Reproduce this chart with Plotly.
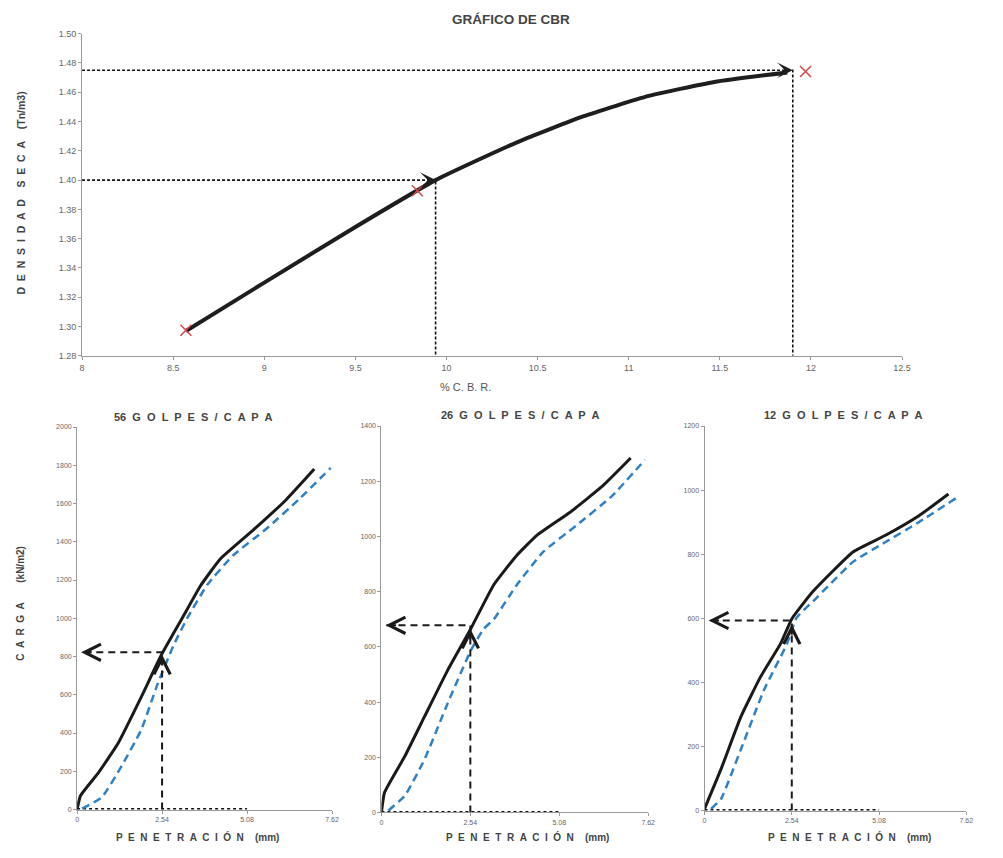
import plotly.graph_objects as go

W, H = 1003, 858

# ---------------- DATA ----------------
# Top chart: dry density vs CBR
cbr_points_x = [8.57, 9.84, 11.97]
cbr_points_y = [1.2975, 1.3927, 1.4742]
cbr_curve_x = [8.57, 9.0, 9.5, 9.94, 10.39, 10.75, 11.11, 11.47, 11.87]
cbr_curve_y = [1.297, 1.330, 1.368, 1.400, 1.426, 1.4435, 1.4575, 1.467, 1.4735]
cbr_read_x = [9.94, 11.9]
cbr_read_y = [1.400, 1.475]
top_yticks = [1.28, 1.30, 1.32, 1.34, 1.36, 1.38, 1.40, 1.42, 1.44, 1.46, 1.48, 1.50]
top_xticks = [8, 8.5, 9, 9.5, 10, 10.5, 11, 11.5, 12, 12.5]

# Bottom charts: load vs penetration
pen_ticks = [0, 2.54, 5.08, 7.62]
pen_ticklabels = ["0", "2.54", "5.08", "7.62"]

g56_black_x = [0, 0.10, 0.64, 1.23, 1.92, 2.51, 3.15, 3.69, 4.28, 5.27, 6.25, 7.09]
g56_black_y = [0, 72, 193, 348, 589, 805, 1003, 1170, 1310, 1462, 1620, 1780]
g56_blue_x = [0.15, 0.74, 1.33, 1.92, 2.41, 2.90, 3.30, 3.89, 4.67, 5.66, 6.64, 7.58]
g56_blue_y = [5, 64, 227, 418, 658, 865, 1003, 1175, 1330, 1468, 1623, 1786]
g56_read = 822

g26_black_x = [0, 0.09, 0.67, 1.23, 1.89, 2.55, 3.21, 3.87, 4.44, 5.38, 6.32, 7.12]
g26_black_y = [0, 73, 204, 347, 515, 665, 825, 932, 1004, 1087, 1183, 1284]
g26_blue_x = [0.20, 0.67, 1.23, 1.89, 2.55, 2.92, 3.21, 3.87, 4.62, 5.56, 6.59, 7.53]
g26_blue_y = [7, 61, 192, 395, 586, 665, 700, 825, 944, 1039, 1147, 1278]
g26_read = 678

g12_black_x = [0, 0.48, 1.06, 1.63, 2.21, 2.54, 3.16, 4.32, 5.27, 6.24, 7.10]
g12_black_y = [5, 129, 293, 417, 520, 598, 684, 807, 859, 920, 988]
g12_blue_x = [0.19, 0.48, 1.06, 1.73, 2.40, 2.68, 3.16, 4.32, 5.27, 6.24, 7.35]
g12_blue_y = [5, 36, 191, 376, 520, 602, 653, 776, 838, 900, 977]
g12_read = 593

# ---------------- FIGURE ----------------
fig = go.Figure()
FONT = "Liberation Sans, Arial, sans-serif"
TICKC = "#666666"
AXC = "#9a9a9a"
NB = "\u00a0"


def px_x(p):
    return p / W


def px_y(p):
    return 1 - p / H


def spaced(word, gap=2):
    sep = " " + NB * (gap - 1)
    return sep.join(list(word))


# Top chart
for xr, yr in zip(cbr_read_x, cbr_read_y):
    fig.add_trace(go.Scatter(x=[top_xticks[0], xr, xr],
                             y=[yr, yr, top_yticks[0]],
                             mode="lines", line=dict(color="#111", width=1.6, dash="3px,2px"),
                             xaxis="x", yaxis="y", showlegend=False))
fig.add_trace(go.Scatter(x=cbr_curve_x, y=cbr_curve_y, mode="lines",
                         line=dict(color="#1e1e1e", width=4, shape="spline", smoothing=0.5),
                         xaxis="x", yaxis="y", showlegend=False))
fig.add_trace(go.Scatter(x=cbr_points_x, y=cbr_points_y, mode="markers",
                         marker=dict(symbol="x-thin", size=11, color="#d04848",
                                     line=dict(color="#d04848", width=1.5)),
                         xaxis="x", yaxis="y", showlegend=False))

annotations = []
for xr, yr in zip(cbr_read_x, cbr_read_y):
    annotations.append(dict(x=xr, y=yr, ax=-10, ay=0, xref="x", yref="y",
                            axref="pixel", ayref="pixel", showarrow=True,
                            arrowhead=3, arrowsize=1.3, arrowwidth=2,
                            arrowcolor="#1e1e1e", text=""))

# Bottom charts
bottom = [
    ("x2", "y2", g56_black_x, g56_black_y, g56_blue_x, g56_blue_y, g56_read),
    ("x3", "y3", g26_black_x, g26_black_y, g26_blue_x, g26_blue_y, g26_read),
    ("x4", "y4", g12_black_x, g12_black_y, g12_blue_x, g12_blue_y, g12_read),
]
for xa, ya, bx, by, ux, uy, rd in bottom:
    fig.add_trace(go.Scatter(x=[pen_ticks[0], pen_ticks[2]], y=[0, 0], mode="lines",
                             line=dict(color="#111", width=3, dash="dot"),
                             xaxis=xa, yaxis=ya, showlegend=False))
    fig.add_trace(go.Scatter(x=ux, y=uy, mode="lines",
                             line=dict(color="#2f80c4", width=2.5, dash="8px,5px",
                                       shape="spline", smoothing=0.4),
                             xaxis=xa, yaxis=ya, showlegend=False))
    fig.add_trace(go.Scatter(x=bx, y=by, mode="lines",
                             line=dict(color="#1a1a1a", width=3, shape="spline", smoothing=0.4),
                             xaxis=xa, yaxis=ya, showlegend=False))
    fig.add_trace(go.Scatter(x=[pen_ticks[1], pen_ticks[1], 0.12], y=[0, rd, rd], mode="lines",
                             line=dict(color="#1a1a1a", width=2, dash="7px,5px"),
                             xaxis=xa, yaxis=ya, showlegend=False))
    annotations.append(dict(x=0.12, y=rd, ax=12, ay=0, xref=xa, yref=ya,
                            axref="pixel", ayref="pixel", showarrow=True,
                            arrowhead=5, arrowsize=1.6, arrowwidth=2,
                            arrowcolor="#1a1a1a", text=""))
    annotations.append(dict(x=pen_ticks[1], y=rd - 12, ax=0, ay=12, xref=xa, yref=ya,
                            axref="pixel", ayref="pixel", showarrow=True,
                            arrowhead=5, arrowsize=1.6, arrowwidth=2,
                            arrowcolor="#1a1a1a", text=""))


def txt(text, x, y, size, bold=True, angle=0, color="#444", xanchor="center"):
    annotations.append(dict(text=("<b>%s</b>" % text) if bold else text,
                            x=px_x(x), y=px_y(y), xref="paper", yref="paper",
                            showarrow=False, textangle=angle, xanchor=xanchor,
                            yanchor="middle",
                            font=dict(family=FONT, size=size, color=color)))


txt("GRÁFICO DE CBR", 514, 15, 13.5)
txt(spaced("DENSIDAD") + NB * 4 + spaced("SECA") + NB * 4 + "(Tn/m3)", 18, 190, 10.5, angle=-90)
txt("% C. B. R.", 440, 387, 11, bold=False, color="#555", xanchor="left")
for lbl, cx, cy in (("56", 193, 417), ("26", 524, 415), ("12", 851, 415)):
    txt(lbl + NB * 2 + spaced("GOLPES/CAPA"), cx, cy, 11)
txt(spaced("CARGA") + NB * 7 + "(kN/m2)", 18, 605, 10, angle=-90)
for cx in (197, 531, 857):
    txt(spaced("PENETRACIÓN") + NB * 4 + "(mm)", cx, 842, 10)

axis_common = dict(showgrid=False, zeroline=False, showline=True, linecolor=AXC,
                   linewidth=1, ticks="outside", ticklen=3, tickcolor=AXC,
                   tickfont=dict(family=FONT, size=9, color=TICKC))
small_axis = dict(axis_common)
small_axis["tickfont"] = dict(family=FONT, size=7, color=TICKC)

fig.update_layout(
    width=W, height=H,
    margin=dict(l=0, r=0, t=0, b=0),
    paper_bgcolor="white", plot_bgcolor="white",
    showlegend=False,
    annotations=annotations,
    xaxis=dict(axis_common, domain=[px_x(80), px_x(910)], range=[8, 12.5],
               tickvals=top_xticks, ticktext=[str(v) for v in top_xticks],
               anchor="y"),
    yaxis=dict(axis_common, domain=[px_y(355), px_y(29)], range=[1.28, 1.50],
               tickvals=top_yticks, ticktext=["%.2f" % v for v in top_yticks],
               anchor="x"),
    xaxis2=dict(small_axis, domain=[px_x(75), px_x(333)], range=[0, 7.62],
                tickvals=pen_ticks, ticktext=pen_ticklabels, anchor="y2"),
    yaxis2=dict(small_axis, domain=[px_y(814), px_y(427)], range=[0, 2000],
                tickvals=list(range(0, 2001, 200)), anchor="x2"),
    xaxis3=dict(small_axis, domain=[px_x(383), px_x(653)], range=[0, 7.62],
                tickvals=pen_ticks, ticktext=pen_ticklabels, anchor="y3"),
    yaxis3=dict(small_axis, domain=[px_y(817), px_y(426)], range=[0, 1400],
                tickvals=list(range(0, 1401, 200)), anchor="x3"),
    xaxis4=dict(small_axis, domain=[px_x(710), px_x(975)], range=[0, 7.62],
                tickvals=pen_ticks, ticktext=pen_ticklabels, anchor="y4"),
    yaxis4=dict(small_axis, domain=[px_y(815), px_y(426)], range=[0, 1200],
                tickvals=list(range(0, 1201, 200)), anchor="x4"),
)

fig.write_html("out.html")
